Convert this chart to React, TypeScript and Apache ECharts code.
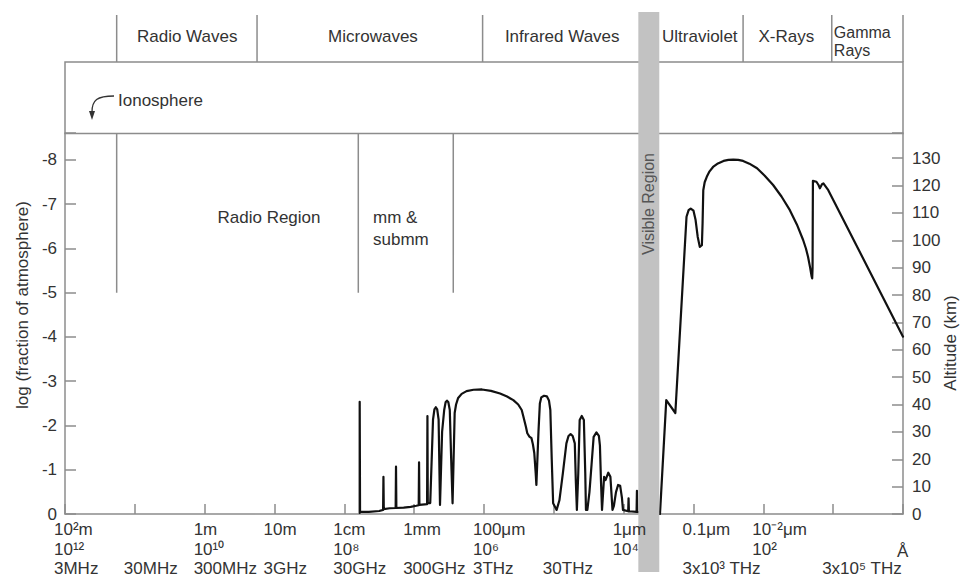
import React, { useEffect, useRef } from "react";
import * as echarts from "echarts";

// x = -log10(wavelength in metres): -2 = 100 m ... 10 = 1 Å
const X_MIN = -2;
const X_MAX = 10;
const LOG_TOP = -8.61; // left axis value at top of plot frame
const KM_TOP = 139.2; // right axis value at top of plot frame

// altitude (km) where radiation is absorbed
const ABSORPTION_CURVE: [number, number][] = [
  [2.22, 0.4], [2.22, 41.0], [2.225, 0.8], [2.35, 0.8], [2.5, 1.1],
  [2.555, 1.5], [2.56, 13.6], [2.565, 1.8], [2.65, 2.1], [2.735, 2.2],
  [2.74, 17.3], [2.745, 2.2], [2.85, 2.3], [2.95, 2.6], [3.03, 3.0],
  [3.065, 3.2], [3.07, 18.9], [3.075, 3.3], [3.15, 3.5], [3.185, 3.6],
  [3.19, 35.8], [3.195, 4.0], [3.23, 4.0], [3.27, 34.5], [3.29, 38.2],
  [3.31, 39.0], [3.33, 38.2], [3.35, 34.5], [3.37, 3.3], [3.40, 30.0],
  [3.43, 38.0], [3.45, 40.8], [3.47, 41.4], [3.49, 40.8], [3.51, 38.0],
  [3.53, 20.0], [3.55, 3.9], [3.58, 36.9], [3.60, 40.0], [3.63, 42.4],
  [3.68, 43.9], [3.75, 44.9], [3.85, 45.4], [3.97, 45.5], [4.10, 45.0],
  [4.23, 44.0], [4.33, 42.9], [4.42, 41.6], [4.49, 40.0], [4.54, 38.0],
  [4.57, 35.0], [4.60, 31.9], [4.62, 29.5], [4.65, 28.3], [4.68, 27.7],
  [4.70, 25.5], [4.72, 22.3], [4.74, 15.0], [4.75, 10.6], [4.78, 30.0],
  [4.80, 40.4], [4.82, 42.6], [4.86, 43.2], [4.90, 43.0], [4.93, 41.5],
  [4.95, 38.0], [4.97, 20.0], [4.99, 3.9], [5.04, 1.5],
  [5.08, 5.0], [5.13, 15.0], [5.18, 25.8], [5.21, 28.5], [5.24, 29.2],
  [5.27, 28.5], [5.30, 25.8], [5.315, 12.0], [5.33, 1.5], [5.35, 15.0],
  [5.37, 34.3], [5.40, 35.8], [5.43, 34.3], [5.45, 15.0], [5.46, 1.5],
  [5.48, 1.5], [5.51, 8.0], [5.54, 18.0], [5.57, 28.2], [5.61, 29.8],
  [5.645, 28.5], [5.66, 25.0], [5.675, 12.0], [5.69, 1.5], [5.72, 13.6],
  [5.74, 12.4], [5.78, 15.1], [5.81, 13.6], [5.84, 1.5], [5.86, 3.0],
  [5.89, 8.0], [5.92, 10.6], [5.95, 10.3], [5.975, 6.0], [5.99, 1.5],
  [6.065, 1.0], [6.07, 5.7], [6.075, 1.0], [6.185, 0.8], [6.19, 8.5],
  [6.195, 0.8], [6.52, 0.0], [6.61, 41.6], [6.74, 36.9], [6.90, 108.6],
  [6.93, 111.0], [6.96, 111.6], [7.00, 110.8], [7.03, 107.4], [7.06, 101.3],
  [7.09, 97.6], [7.12, 98.2], [7.13, 106.2], [7.14, 118.3], [7.16, 121.2],
  [7.19, 123.2], [7.23, 125.2], [7.28, 126.8], [7.35, 128.1], [7.43, 129.0],
  [7.50, 129.4], [7.57, 129.5], [7.64, 129.4], [7.71, 129.0], [7.80, 128.0],
  [7.91, 126.3], [8.02, 123.6], [8.14, 120.2], [8.26, 116.0], [8.38, 111.0],
  [8.48, 105.8], [8.57, 100.1], [8.61, 97.0], [8.64, 94.0], [8.67, 90.0],
  [8.69, 87.0], [8.70, 86.1], [8.705, 90.0], [8.71, 121.7], [8.76, 121.4],
  [8.79, 120.2], [8.81, 119.0], [8.84, 120.5], [8.86, 120.8], [8.93, 118.3],
  [10.0, 64.8],
];

// band dividers (x) in the top strip
const BAND_DIVIDERS = [-1.26, 0.75, 3.98, 7.71, 8.98, 10];
const BAND_LABELS: [number, string][] = [
  [-0.25, "Radio Waves"],
  [2.41, "Microwaves"],
  [5.12, "Infrared Waves"],
  [7.09, "Ultraviolet"],
  [8.33, "X-Rays"],
];
const GAMMA_LABEL: [number, string, string] = [9.01, "Gamma", "Rays"];

// region dividers inside the plot, from log value -5 up to the top
const REGION_DIVIDERS = [-1.26, 2.2, 3.56];
const REGION_LOW = -5;
const VISIBLE_BAND: [number, number] = [6.21, 6.51];

// three rows of x tick labels
const WAVELENGTH_LABELS: [number, string][] = [
  [-2, "10²m"], [0, "1m"], [1, "10m"], [2, "1cm"], [3, "1mm"],
  [4, "100μm"], [6, "1μm"], [7, "0.1μm"], [8, "10⁻²μm"],
];
const ANGSTROM_LABELS: [number, string][] = [
  [-2, "10¹²"], [0, "10¹⁰"], [2, "10⁸"], [4, "10⁶"], [6, "10⁴"], [8, "10²"],
];
const ANGSTROM_UNIT: [number, string] = [10, "Å"];
const FREQUENCY_LABELS: [number, string][] = [
  [-2, "3MHz"], [-1, "30MHz"], [0, "300MHz"], [1, "3GHz"], [2, "30GHz"],
  [3, "300GHz"], [4, "3THz"], [5, "30THz"], [7, "3x10³ THz"], [9, "3x10⁵ THz"],
];

export default function App() {
  const ref = useRef<HTMLDivElement>(null);

  useEffect(() => {
    if (!ref.current) return;
    const chart = echarts.init(ref.current, null, { renderer: "svg" });
    const font = "'Liberation Sans', Arial, Helvetica, sans-serif";
    const axisColor = "#8c8c8c";
    const textColor = "#333333";
    const FS = 17;

    const option: any = {
      animation: false,
      backgroundColor: "#ffffff",
      textStyle: { fontFamily: font },
      grid: { left: 65, right: 57, top: 133, bottom: 62, containLabel: false },
      xAxis: {
        type: "value",
        min: X_MIN,
        max: X_MAX,
        interval: 1,
        axisLine: { show: true, lineStyle: { color: axisColor, width: 1.5 } },
        axisTick: { show: true, inside: true, length: 10, lineStyle: { color: axisColor, width: 1.5 } },
        axisLabel: { show: false },
        splitLine: { show: false },
      },
      yAxis: [
        {
          type: "value",
          position: "left",
          inverse: true,
          min: LOG_TOP,
          max: 0,
          splitNumber: 9,
          axisLine: { show: true, onZero: false, lineStyle: { color: axisColor, width: 1.5 } },
          axisTick: { show: true, inside: true, length: 11, lineStyle: { color: axisColor, width: 1.5 } },
          axisLabel: {
            color: textColor,
            fontSize: FS,
            fontFamily: font,
            margin: 8,
            formatter: (v: number) =>
              Math.abs(v - Math.round(v)) < 1e-6 ? String(Math.round(v)) : "",
          },
          splitLine: { show: false },
        },
        {
          type: "value",
          position: "right",
          min: 0,
          max: KM_TOP,
          interval: 10,
          axisLine: { show: true, onZero: false, lineStyle: { color: axisColor, width: 1.5 } },
          axisTick: { show: true, inside: true, length: 11, lineStyle: { color: axisColor, width: 1.5 } },
          axisLabel: {
            color: textColor,
            fontSize: FS,
            fontFamily: font,
            margin: 9,
            formatter: (v: number) =>
              Math.abs(v % 10) < 1e-6 ? String(v) : "",
          },
          splitLine: { show: false },
        },
      ],
      series: [
        {
          name: "absorption",
          type: "line",
          xAxisIndex: 0,
          yAxisIndex: 1,
          data: ABSORPTION_CURVE,
          symbol: "none",
          showSymbol: false,
          smooth: false,
          silent: true,
          z: 5,
          lineStyle: { color: "#111111", width: 2.2, join: "round", cap: "round" },
        },
        ...REGION_DIVIDERS.map((x) => ({
          type: "line",
          xAxisIndex: 0,
          yAxisIndex: 0,
          data: [
            [x, REGION_LOW],
            [x, LOG_TOP],
          ],
          symbol: "none",
          silent: true,
          z: 3,
          lineStyle: { color: axisColor, width: 1.5 },
        })),
      ],
    };

    chart.setOption(option);

    const px = (v: number) => chart.convertToPixel({ xAxisIndex: 0 }, v) as number;
    const gl: any[] = [];
    const txt = (x: number, y: number, text: string, align = "center", extra: any = {}, z = 50) => ({
      type: "text",
      x,
      y,
      z,
      silent: true,
      style: {
        text,
        fill: textColor,
        fontSize: FS,
        fontFamily: font,
        align,
        verticalAlign: "middle",
        ...extra,
      },
    });

    // ionosphere strip
    const x0 = px(X_MIN);
    const x1 = px(X_MAX);
    gl.push({
      type: "rect",
      z: 10,
      silent: true,
      shape: { x: x0, y: 62, width: x1 - x0, height: 71.5 },
      style: { fill: "none", stroke: axisColor, lineWidth: 1.5 },
    });
    // top band dividers
    BAND_DIVIDERS.forEach((v) => {
      const x = px(v);
      gl.push({
        type: "line",
        z: 10,
        silent: true,
        shape: { x1: x, y1: 15, x2: x, y2: 62 },
        style: { stroke: axisColor, lineWidth: 1.5 },
      });
    });
    BAND_LABELS.forEach(([v, t]) => gl.push(txt(px(v), 36, t)));
    gl.push(txt(px(GAMMA_LABEL[0]), 32, GAMMA_LABEL[1], "left", { fontSize: 16 }));
    gl.push(txt(px(GAMMA_LABEL[0]), 50, GAMMA_LABEL[2], "left", { fontSize: 16 }));

    // ionosphere label and arrow
    gl.push(txt(118, 100, "Ionosphere", "left"));
    gl.push({
      type: "bezierCurve",
      z: 20,
      silent: true,
      shape: { x1: 114, y1: 96, x2: 92, y2: 112, cpx1: 97, cpy1: 96, cpx2: 92, cpy2: 100 },
      style: { stroke: "#333", lineWidth: 1.3, fill: "none" },
    });
    gl.push({
      type: "polygon",
      z: 20,
      silent: true,
      shape: { points: [[89, 111], [95, 111], [92, 120]] },
      style: { fill: "#333" },
    });

    // region labels
    gl.push(txt(269, 217, "Radio Region"));
    gl.push(txt(373, 217, "mm &", "left"));
    gl.push(txt(373, 239, "submm", "left"));

    // visible band
    const vb0 = px(VISIBLE_BAND[0]);
    const vb1 = px(VISIBLE_BAND[1]);
    gl.push({
      type: "rect",
      z: 100,
      silent: true,
      shape: { x: vb0, y: 12, width: vb1 - vb0, height: 560 },
      style: { fill: "#c2c2c2" },
    });
    gl.push({
      type: "text",
      z: 101,
      silent: true,
      x: (vb0 + vb1) / 2,
      y: 204,
      rotation: Math.PI / 2,
      style: {
        text: "Visible Region",
        fill: "#555555",
        fontSize: FS - 1,
        fontFamily: font,
        align: "center",
        verticalAlign: "middle",
      },
    });

    // axis names
    gl.push({
      ...txt(22, 305, "log (fraction of atmosphere)"),
      rotation: Math.PI / 2,
    });
    gl.push({
      ...txt(950, 343, "Altitude (km)"),
      rotation: Math.PI / 2,
    });

    // x tick label rows (drawn above the visible band)
    const OFF = -11;
    WAVELENGTH_LABELS.forEach(([v, t]) => gl.push(txt(px(v) + OFF, 529, t, "left", {}, 150)));
    ANGSTROM_LABELS.forEach(([v, t]) => gl.push(txt(px(v) + OFF, 549, t, "left", {}, 150)));
    gl.push(txt(px(ANGSTROM_UNIT[0]) - 6, 551, ANGSTROM_UNIT[1], "left", {}, 150));
    FREQUENCY_LABELS.forEach(([v, t]) => gl.push(txt(px(v) + OFF, 568, t, "left", {}, 150)));

    chart.setOption({ graphic: { elements: gl } });

    return () => {
      chart.dispose();
    };
  }, []);

  return (
    <div
      ref={ref}
      style={{ position: "absolute", left: 0, top: 0, width: 960, height: 576 }}
    />
  );
}
